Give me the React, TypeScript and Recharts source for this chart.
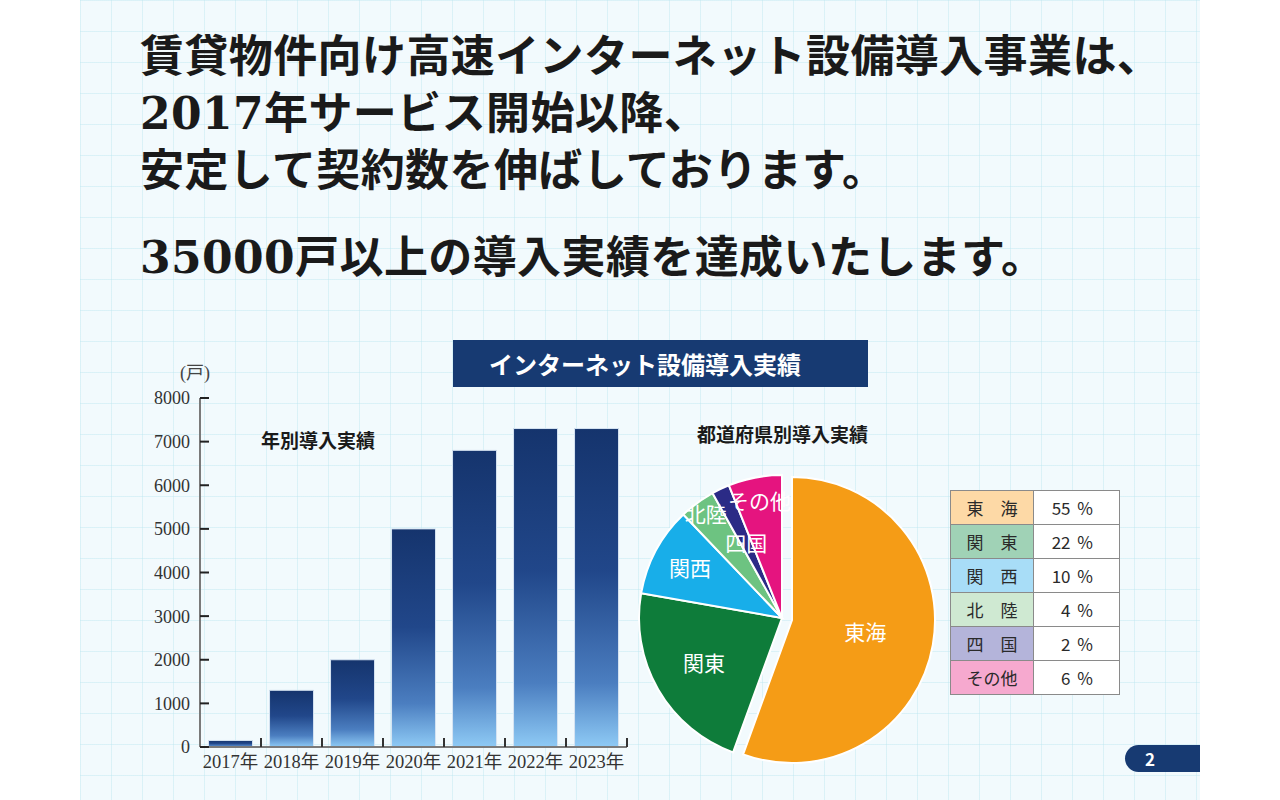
import { BarChart, Bar, XAxis, YAxis, PieChart, Pie, Cell } from "recharts";

const years = ["2017年", "2018年", "2019年", "2020年", "2021年", "2022年", "2023年"];
const installs = [150, 1300, 2000, 5000, 6800, 7300, 7300];
const yTicks = [0, 1000, 2000, 3000, 4000, 5000, 6000, 7000, 8000];

const regions = ["東海", "関東", "関西", "北陸", "四国", "その他"];
const shares = [55, 22, 10, 4, 2, 6];
const tableLabels = ["東　海", "関　東", "関　西", "北　陸", "四　国", "その他"];

const pieColors = ["#f59c16", "#0e7c3a", "#18aee9", "#6dc381", "#2b2b86", "#e5147f"];
const tableColors = ["#fdd9a6", "#a0d2b6", "#a8ddf7", "#cfe9d2", "#b4b4da", "#f6a9cf"];
// label distance (fraction of radius) for each slice
const labelRatio = [0.52, 0.63, 0.73, 0.9, 0.58, 0.83];

const barData = years.map((y, i) => ({ year: y, value: installs[i] }));
const pieData = regions.map((r, i) => ({ name: r, value: shares[i] }));

const jp = '"Noto Sans CJK JP", "Noto Sans", sans-serif';
const serif = '"Liberation Serif", "Noto Sans CJK JP", serif';
const headSerif = '"DejaVu Serif", "Noto Sans CJK JP", serif';
const RAD = Math.PI / 180;

const YTick = (props: any) => {
  const { x, y, payload } = props;
  const axisX = x + 10;
  return (
    <g>
      <line x1={axisX} y1={y} x2={axisX + 9} y2={y} stroke="#222" strokeWidth={2} />
      <text x={x} y={y} dy="0.36em" textAnchor="end" fill="#333" fontSize={18} fontFamily={serif}>
        {payload.value}
      </text>
    </g>
  );
};

const XTick = (props: any) => {
  const { x, y, payload } = props;
  const axisY = y - 6;
  const edge = x + (payload.offset || 0);
  return (
    <g>
      <line x1={edge} y1={axisY} x2={edge} y2={axisY - 9} stroke="#333" strokeWidth={2} />
      <text x={x} y={y} dy="0.8em" textAnchor="middle" fill="#333" fontSize={18.5} fontFamily={serif}>
        {payload.value}
      </text>
    </g>
  );
};

const makeLabel = (only: number | null) => (props: any) => {
  const { cx, cy, midAngle, outerRadius, index, name } = props;
  if (only === null ? index === 0 : index !== only) return null;
  const r = outerRadius * labelRatio[index];
  const x = cx + r * Math.cos(-midAngle * RAD);
  const y = cy + r * Math.sin(-midAngle * RAD);
  return (
    <text x={x} y={y} dy="0.36em" textAnchor="middle" fill="#fff" fontSize={21} fontFamily={jp}>
      {name}
    </text>
  );
};

export default function App() {
  return (
    <div style={{ position: "absolute", left: 0, top: 0, width: 1280, height: 800, background: "#fff", overflow: "hidden" }}>
      <div
        style={{
          position: "absolute",
          left: 80,
          top: 0,
          width: 1120,
          height: 800,
          backgroundColor: "#f2fafd",
          backgroundImage:
            "linear-gradient(to right, rgba(190,232,240,0.45) 1px, transparent 1px), linear-gradient(to bottom, rgba(190,232,240,0.45) 1px, transparent 1px)",
          backgroundSize: "31px 31px",
        }}
      />
      <div style={{ position: "absolute", left: 140, top: 28, fontFamily: headSerif, fontWeight: 700, fontSize: 44, lineHeight: "57px", letterSpacing: 0.4, color: "#1a1a1a", whiteSpace: "nowrap" }}>
        <div>賃貸物件向け高速インターネット設備導入事業は、</div>
        <div>2017年サービス開始以降、</div>
        <div>安定して契約数を伸ばしております。</div>
        <div style={{ marginTop: 30 }}>35000戸以上の導入実績を達成いたします。</div>
      </div>

      <div style={{ position: "absolute", left: 453, top: 340, width: 415, height: 47, background: "#173a72", color: "#fff", fontFamily: jp, fontWeight: 700, fontSize: 24, lineHeight: "47px", boxSizing: "border-box", paddingLeft: 36, whiteSpace: "nowrap" }}>
        インターネット設備導入実績
      </div>

      <div style={{ position: "absolute", left: 180, top: 358, fontFamily: serif, fontSize: 18, color: "#444" }}>(戸)</div>
      <div style={{ position: "absolute", left: 261, top: 426, fontFamily: jp, fontWeight: 700, fontSize: 19, color: "#1a1a1a" }}>年別導入実績</div>

      <div style={{ position: "absolute", left: 130, top: 380 }}>
        <BarChart width={510} height={410} data={barData} margin={{ top: 18, right: 13, bottom: 13, left: 0 }} barCategoryGap="14%">
          <defs>
            <linearGradient id="barGrad" x1="0" y1="0" x2="0" y2="1">
              <stop offset="0%" stopColor="#15346d" />
              <stop offset="45%" stopColor="#21478a" />
              <stop offset="80%" stopColor="#4b7ec0" />
              <stop offset="100%" stopColor="#8ecaf5" />
            </linearGradient>
          </defs>
          <XAxis dataKey="year" interval={0} tickLine={false} tickSize={0} tickMargin={6} height={30} axisLine={{ stroke: "#7a7a7a", strokeWidth: 2 }} tick={<XTick />} />
          <YAxis domain={[0, 8000]} ticks={yTicks} interval={0} width={70} tickLine={false} tickSize={0} tickMargin={10} axisLine={{ stroke: "#7a7a7a", strokeWidth: 2 }} tick={<YTick />} />
          <Bar dataKey="value" fill="url(#barGrad)" stroke="#d6e4f2" strokeWidth={1} isAnimationActive={false} />
        </BarChart>
      </div>

      <div style={{ position: "absolute", left: 697, top: 420, fontFamily: jp, fontWeight: 700, fontSize: 19, color: "#1a1a1a", whiteSpace: "nowrap" }}>都道府県別導入実績</div>

      <div style={{ position: "absolute", left: 620, top: 450 }}>
        <PieChart width={330} height={320}>
          <Pie data={pieData} dataKey="value" nameKey="name" cx={157} cy={163} outerRadius={143} startAngle={90} endAngle={-270} stroke="#fff" strokeWidth={2} label={makeLabel(null)} labelLine={false} isAnimationActive={false}>
            {pieData.map((d, i) => (
              <Cell key={d.name} fill={i === 0 ? "none" : pieColors[i]} stroke={i === 0 ? "none" : "#fff"} />
            ))}
          </Pie>
          <Pie data={pieData} dataKey="value" nameKey="name" cx={167} cy={165} outerRadius={143} startAngle={90} endAngle={-270} stroke="#fff" strokeWidth={2} label={makeLabel(0)} labelLine={false} isAnimationActive={false}>
            {pieData.map((d, i) => (
              <Cell key={d.name} fill={i === 0 ? pieColors[0] : "none"} stroke={i === 0 ? "#fff" : "none"} />
            ))}
          </Pie>
        </PieChart>
      </div>

      <table style={{ position: "absolute", left: 950, top: 490, borderCollapse: "collapse", fontFamily: jp, fontSize: 17, color: "#2a2a2a" }}>
        <tbody>
          {regions.map((r, i) => (
            <tr key={r} style={{ height: 34 }}>
              <td style={{ width: 82, border: "1px solid #8a8a8a", background: tableColors[i], textAlign: "center", padding: 0 }}>{tableLabels[i]}</td>
              <td style={{ width: 86, border: "1px solid #8a8a8a", background: "#fff", textAlign: "right", paddingRight: 26, boxSizing: "border-box", wordSpacing: 3 }}>
                {shares[i]} %
              </td>
            </tr>
          ))}
        </tbody>
      </table>

      <div style={{ position: "absolute", left: 1125, top: 745, width: 75, height: 27, background: "#173a72", borderRadius: "14px 0 0 14px", color: "#fff", fontFamily: jp, fontWeight: 700, fontSize: 17, lineHeight: "27px", paddingLeft: 20, boxSizing: "border-box" }}>
        2
      </div>
    </div>
  );
}
